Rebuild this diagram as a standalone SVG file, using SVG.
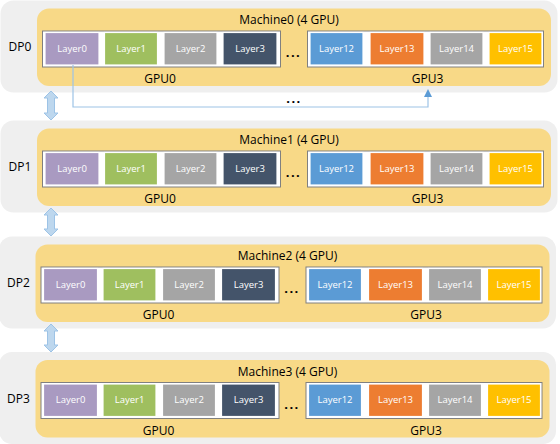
<svg xmlns="http://www.w3.org/2000/svg" width="560" height="444" viewBox="0 0 560 444">
<defs>
<style>
.bg{fill:#efefef;}
.mach{fill:#f8d987;}
.gpu{fill:#ffffff;stroke:#808080;stroke-width:1;}
.ly{stroke:#ffffff;stroke-width:1.2;}
.lt{font-family:"Open Sans","Noto Sans",sans-serif;font-size:9.5px;fill:#ffffff;text-anchor:middle;}
.t{font-family:"Open Sans","Noto Sans",sans-serif;font-size:12px;fill:#000000;text-anchor:middle;}
.dots{font-family:"Open Sans","Noto Sans",sans-serif;font-size:13px;fill:#000000;text-anchor:middle;font-weight:bold;letter-spacing:1.5px;}
.c0{fill:#a99ac1;}.c1{fill:#9fbf5f;}.c2{fill:#a5a5a5;}.c3{fill:#44546a;}
.c12{fill:#5b9bd5;}.c13{fill:#ed7d31;}.c14{fill:#a5a5a5;}.c15{fill:#ffc000;}
.dbl{fill:#bdd7ee;stroke:#9dc3e6;stroke-width:1;}
.conn{fill:none;stroke:#9dc3e6;stroke-width:1.2;}
</style>
<marker id="ah" markerWidth="8" markerHeight="8" refX="4" refY="4" orient="auto" markerUnits="userSpaceOnUse">
<path d="M0,0 L8,4 L0,8 Z" fill="#5b9bd5"/>
</marker>
<g id="row">
<rect class="bg" x="0.5" y="0.5" width="557" height="92" rx="13"/>
<rect class="mach" x="37" y="8.5" width="514" height="77.5" rx="12"/>
<rect class="gpu" x="42.5" y="31" width="238" height="36"/>
<rect class="gpu" x="307.5" y="31" width="236" height="36"/>
<rect class="ly c0" x="45" y="32.5" width="54" height="32.5"/>
<rect class="ly c1" x="104.5" y="32.5" width="53" height="32.5"/>
<rect class="ly c2" x="164" y="32.5" width="53" height="32.5"/>
<rect class="ly c3" x="223" y="32.5" width="54" height="32.5"/>
<rect class="ly c12" x="310" y="32.5" width="53" height="32.5"/>
<rect class="ly c13" x="370" y="32.5" width="54" height="32.5"/>
<rect class="ly c14" x="430" y="32.5" width="53" height="32.5"/>
<rect class="ly c15" x="489" y="32.5" width="53" height="32.5"/>
<text class="lt" x="72" y="51.5">Layer0</text>
<text class="lt" x="131" y="51.5">Layer1</text>
<text class="lt" x="190.5" y="51.5">Layer2</text>
<text class="lt" x="250" y="51.5">Layer3</text>
<text class="lt" x="336.5" y="51.5">Layer12</text>
<text class="lt" x="397" y="51.5">Layer13</text>
<text class="lt" x="456.5" y="51.5">Layer14</text>
<text class="lt" x="515.5" y="51.5">Layer15</text>
<text class="dots" x="293.5" y="57">...</text>
<text class="t" x="160" y="83">GPU0</text>
<text class="t" x="427.5" y="83">GPU3</text>
</g>
</defs>
<g id="dp0">
<use href="#row" x="0" y="0"/>
<text class="t" x="20" y="51" text-anchor="middle">DP0</text>
<text class="t" x="289" y="24">Machine0 (4 GPU)</text>
</g>
<g id="dp1">
<use href="#row" x="0" y="120"/>
<text class="t" x="20" y="171">DP1</text>
<text class="t" x="289" y="144">Machine1 (4 GPU)</text>
</g>
<g id="dp2">
<use href="#row" x="-1.5" y="236"/>
<text class="t" x="18.5" y="287">DP2</text>
<text class="t" x="287.5" y="260">Machine2 (4 GPU)</text>
</g>
<g id="dp3">
<use href="#row" x="-1.5" y="351.5"/>
<text class="t" x="18.5" y="402.5">DP3</text>
<text class="t" x="287.5" y="375.5">Machine3 (4 GPU)</text>
</g>
<g id="connectors">
<path class="conn" d="M73,65 V107 H428 V93" marker-end="url(#ah)"/>
<text class="dots" x="294" y="103">...</text>
<path class="dbl" d="M51,91 L58,98 L54.5,98 L54.5,113 L58,113 L51,120 L44,113 L47.5,113 L47.5,98 L44,98 Z"/>
<path class="dbl" d="M51,208 L58,215 L54.5,215 L54.5,229 L58,229 L51,236 L44,229 L47.5,229 L47.5,215 L44,215 Z"/>
<path class="dbl" d="M51,324 L58,331 L54.5,331 L54.5,345 L58,345 L51,352 L44,345 L47.5,345 L47.5,331 L44,331 Z"/>
</g>
</svg>
